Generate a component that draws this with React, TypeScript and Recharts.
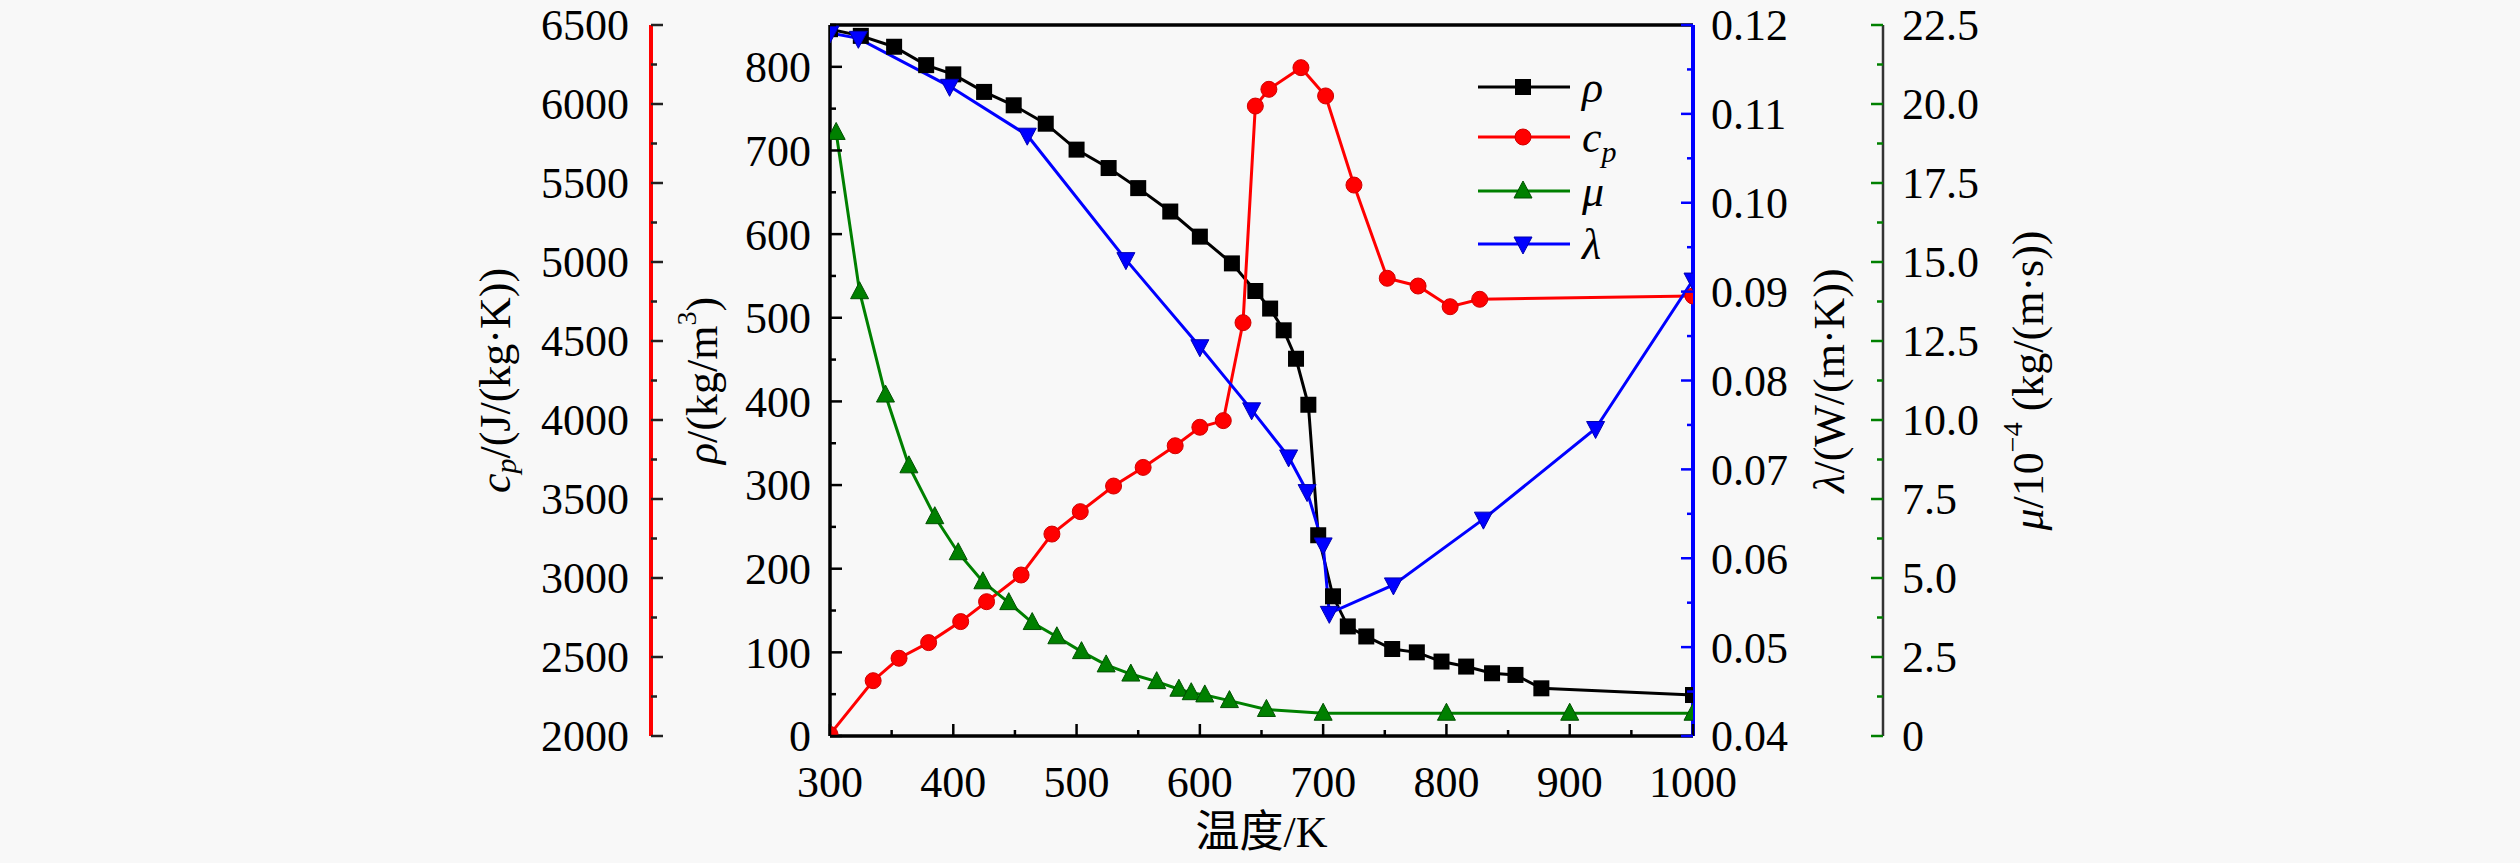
import React from 'react';
import { LineChart, Line, XAxis, YAxis, ReferenceLine } from 'recharts';

// density rho, kg/m3
const rhoTemp = [300, 325, 352, 378, 400, 425, 449, 475, 500, 526, 550, 576, 600, 626, 645, 657, 668, 678, 688, 696, 708, 720, 735, 756, 776, 796, 816, 837, 856, 877, 1000];
const rhoValues = [845, 837, 824, 802, 791, 770, 754, 732, 701, 679, 655, 627, 597, 565, 532, 511, 485, 451, 396, 240, 167, 131, 119, 104, 100, 89, 83, 75, 73, 57, 49];

// specific heat cp, J/(kg K)
const cpTemp = [300, 335, 356, 380, 406, 427, 455, 480, 503, 530, 554, 580, 600, 619, 635, 645, 656, 682, 702, 725, 752, 777, 803, 827, 1000];
const cpValues = [2010, 2350, 2492, 2591, 2724, 2850, 3019, 3278, 3420, 3582, 3700, 3837, 3954, 3996, 4616, 5987, 6093, 6230, 6051, 5487, 4897, 4848, 4717, 4764, 4785];

// viscosity mu, 1e-4 kg/(m s)
const muTemp = [305, 324, 345, 364, 385, 404, 424, 445, 464, 484, 504, 524, 544, 565, 583, 593, 604, 624, 654, 700, 800, 900, 1000];
const muValues = [19.1, 14.06, 10.79, 8.55, 6.94, 5.8, 4.88, 4.22, 3.59, 3.14, 2.67, 2.25, 1.96, 1.72, 1.48, 1.37, 1.3, 1.12, 0.84, 0.72, 0.72, 0.72, 0.72];

// conductivity lambda, W/(m K)
const lambdaTemp = [300, 323, 397, 460, 540, 600, 642, 672, 687, 700, 705, 757, 830, 921, 1000];
const lambdaValues = [0.1191, 0.1185, 0.1131, 0.1076, 0.0936, 0.0838, 0.0767, 0.0714, 0.0675, 0.0615, 0.0538, 0.057, 0.0644, 0.0746, 0.0913];

const xTicks = [300, 350, 400, 450, 500, 550, 600, 650, 700, 750, 800, 850, 900, 950, 1000];
const rhoTicks = [0, 50, 100, 150, 200, 250, 300, 350, 400, 450, 500, 550, 600, 650, 700, 750, 800, 850];
const cpTicks = [2000, 2250, 2500, 2750, 3000, 3250, 3500, 3750, 4000, 4250, 4500, 4750, 5000, 5250, 5500, 5750, 6000, 6250, 6500];
const lambdaTicks = [0.04, 0.045, 0.05, 0.055, 0.06, 0.065, 0.07, 0.075, 0.08, 0.085, 0.09, 0.095, 0.1, 0.105, 0.11, 0.115, 0.12];
const muTicks = [0, 1.25, 2.5, 3.75, 5, 6.25, 7.5, 8.75, 10, 11.25, 12.5, 13.75, 15, 16.25, 17.5, 18.75, 20, 21.25, 22.5];

const toPoints = (ts: number[], vs: number[]) => ts.map((t, i) => ({ t, v: vs[i] }));

const FONT = '"Liberation Serif", "Times New Roman", serif';
const FS = 44;
const RED = '#ff0000';
const GREEN = '#008000';
const BLUE = '#0000ff';

// axis ids: 1 = next to the plot, 2 = outer one
const RHO = 'L1';
const CP = 'L2';
const LAMBDA = 'R1';
const MU = 'R2';

const isMajor = (v: number, step: number) => Math.abs(v / step - Math.round(v / step)) < 1e-6;

type TickOpts = {
  side: 'left' | 'right' | 'bottom';
  step: number;
  fmt: (v: number) => string;
  color: string;
  gap: number;
};

// ticks point towards the plot; minor ticks are shorter and unlabeled
const makeTick = (o: TickOpts) => (props: any) => {
  const { x, y, payload } = props;
  const v = payload.value;
  const big = isMajor(v, o.step);
  const len = big ? 12 : 6;
  const txt = { fontFamily: FONT, fontSize: FS, fill: '#000' };
  if (o.side === 'bottom') {
    return (
      <g>
        <line x1={x} y1={y} x2={x} y2={y - len} stroke={o.color} strokeWidth={2.5} />
        {big && (
          <text x={x} y={y + o.gap} textAnchor="middle" dy="0.35em" {...txt}>
            {o.fmt(v)}
          </text>
        )}
      </g>
    );
  }
  const dir = o.side === 'left' ? 1 : -1;
  return (
    <g>
      <line x1={x} y1={y} x2={x + dir * len} y2={y} stroke={o.color} strokeWidth={2.5} />
      {big && (
        <text x={x - dir * o.gap} y={y} textAnchor={o.side === 'left' ? 'end' : 'start'} dy="0.35em" {...txt}>
          {o.fmt(v)}
        </text>
      )}
    </g>
  );
};

const yTitle = (dx: number, parts: React.ReactNode) => (props: any) => {
  const vb = props.viewBox;
  const cx = vb.x + dx;
  const cy = vb.y + vb.height / 2;
  return (
    <text
      x={cx}
      y={cy}
      transform={`rotate(-90 ${cx} ${cy})`}
      textAnchor="middle"
      dominantBaseline="central"
      fontFamily={FONT}
      fontSize={FS}
      fill="#000"
    >
      {parts}
    </text>
  );
};

const xTitle = (props: any) => {
  const vb = props.viewBox;
  return (
    <text
      x={vb.x + vb.width / 2}
      y={vb.y + 111}
      textAnchor="middle"
      fontFamily={'"Liberation Serif", "Noto Sans CJK SC", serif'}
      fontSize={FS}
      fill="#000"
    >
      温度/K
    </text>
  );
};

const square = (cx: number, cy: number, key?: any) => (
  <rect key={key} x={cx - 8} y={cy - 8} width={16} height={16} fill="#000" />
);
const circle = (cx: number, cy: number, key?: any) => (
  <circle key={key} cx={cx} cy={cy} r={8} fill={RED} stroke="#d00000" strokeWidth={1} />
);
const triUp = (cx: number, cy: number, key?: any) => (
  <polygon key={key} points={`${cx},${cy - 10} ${cx - 9},${cy + 7} ${cx + 9},${cy + 7}`} fill={GREEN} stroke="#005000" strokeWidth={1} />
);
const triDown = (cx: number, cy: number, key?: any) => (
  <polygon key={key} points={`${cx},${cy + 10} ${cx - 9},${cy - 7} ${cx + 9},${cy - 7}`} fill={BLUE} stroke="#0000b0" strokeWidth={1} />
);

const dotOf = (shape: typeof square) => (p: any) => shape(p.cx, p.cy, p.index);

const legendItems = [
  { name: 'rho', color: '#000', shape: square, y: 87 },
  { name: 'cp', color: RED, shape: circle, y: 137 },
  { name: 'mu', color: GREEN, shape: triUp, y: 191 },
  { name: 'lambda', color: BLUE, shape: triDown, y: 244 },
];

const legendLabel = (name: string) => {
  if (name === 'rho') return <tspan fontStyle="italic">ρ</tspan>;
  if (name === 'mu') return <tspan fontStyle="italic">μ</tspan>;
  if (name === 'lambda') return <tspan fontStyle="italic">λ</tspan>;
  return (
    <>
      <tspan fontStyle="italic">c</tspan>
      <tspan fontStyle="italic" fontSize={30} dy={10}>p</tspan>
    </>
  );
};

export default function App() {
  return (
    <div style={{ position: 'absolute', left: 0, top: 0, width: 2520, height: 863, background: '#f8f8f8' }}>
      <LineChart width={2520} height={863} margin={{ top: 25, right: 447, bottom: 27, left: 472 }}>
        <XAxis
          dataKey="t"
          type="number"
          domain={[300, 1000]}
          allowDataOverflow
          ticks={xTicks}
          interval={0}
          height={100}
          tickSize={0}
          tickMargin={0}
          tickLine={false}
          axisLine={{ stroke: '#000', strokeWidth: 3.5 }}
          tick={makeTick({ side: 'bottom', step: 100, fmt: (v) => String(v), color: '#000', gap: 46 })}
          label={{ content: xTitle }}
        />
        <YAxis
          yAxisId={RHO}
          orientation="left"
          type="number"
          domain={[0, 850]}
          allowDataOverflow
          ticks={rhoTicks}
          interval={0}
          width={179}
          tickSize={0}
          tickMargin={0}
          tickLine={false}
          axisLine={{ stroke: '#000', strokeWidth: 3.5 }}
          tick={makeTick({ side: 'left', step: 100, fmt: (v) => String(v), color: '#000', gap: 19 })}
          label={{
            content: yTitle(51, (
              <>
                <tspan fontStyle="italic">ρ</tspan>
                <tspan>/(kg/m</tspan>
                <tspan fontSize={28} dy={-16}>3</tspan>
                <tspan dy={16}>)</tspan>
              </>
            )),
          }}
        />
        <YAxis
          yAxisId={CP}
          orientation="left"
          type="number"
          domain={[2000, 6500]}
          allowDataOverflow
          ticks={cpTicks}
          interval={0}
          width={179}
          tickSize={0}
          tickMargin={0}
          tickLine={false}
          axisLine={{ stroke: RED, strokeWidth: 4 }}
          tick={makeTick({ side: 'left', step: 500, fmt: (v) => String(v), color: '#222', gap: 22 })}
          label={{
            content: yTitle(23, (
              <>
                <tspan fontStyle="italic">c</tspan>
                <tspan fontStyle="italic" fontSize={30} dy={10}>p</tspan>
                <tspan dy={-10}>/(J/(kg·K))</tspan>
              </>
            )),
          }}
        />
        <YAxis
          yAxisId={LAMBDA}
          orientation="right"
          type="number"
          domain={[0.04, 0.12]}
          allowDataOverflow
          ticks={lambdaTicks}
          interval={0}
          width={190}
          tickSize={0}
          tickMargin={0}
          tickLine={false}
          axisLine={{ stroke: BLUE, strokeWidth: 4 }}
          tick={makeTick({ side: 'right', step: 0.01, fmt: (v) => v.toFixed(2), color: BLUE, gap: 18 })}
          label={{
            content: yTitle(136, (
              <>
                <tspan fontStyle="italic">λ</tspan>
                <tspan>/(W/(m·K))</tspan>
              </>
            )),
          }}
        />
        <YAxis
          yAxisId={MU}
          orientation="right"
          type="number"
          domain={[0, 22.5]}
          allowDataOverflow
          ticks={muTicks}
          interval={0}
          width={190}
          tickSize={0}
          tickMargin={0}
          tickLine={false}
          axisLine={{ stroke: '#333', strokeWidth: 2.5 }}
          tick={makeTick({ side: 'right', step: 2.5, fmt: (v) => (v === 0 ? '0' : v.toFixed(1)), color: GREEN, gap: 19 })}
          label={{
            content: yTitle(145, (
              <>
                <tspan fontStyle="italic">μ</tspan>
                <tspan>/10</tspan>
                <tspan fontSize={28} dy={-16}>−4</tspan>
                <tspan dy={16}> (kg/(m·s))</tspan>
              </>
            )),
          }}
        />
        <ReferenceLine y={850} yAxisId={RHO} stroke="#000" strokeWidth={3.5} />
        <Line
          data={toPoints(rhoTemp, rhoValues)}
          dataKey="v"
          yAxisId={RHO}
          type="linear"
          stroke="#000"
          strokeWidth={3}
          dot={dotOf(square)}
          activeDot={false}
          isAnimationActive={false}
        />
        <Line
          data={toPoints(cpTemp, cpValues)}
          dataKey="v"
          yAxisId={CP}
          type="linear"
          stroke={RED}
          strokeWidth={3}
          dot={dotOf(circle)}
          activeDot={false}
          isAnimationActive={false}
        />
        <Line
          data={toPoints(muTemp, muValues)}
          dataKey="v"
          yAxisId={MU}
          type="linear"
          stroke={GREEN}
          strokeWidth={3}
          dot={dotOf(triUp)}
          activeDot={false}
          isAnimationActive={false}
        />
        <Line
          data={toPoints(lambdaTemp, lambdaValues)}
          dataKey="v"
          yAxisId={LAMBDA}
          type="linear"
          stroke={BLUE}
          strokeWidth={3}
          dot={dotOf(triDown)}
          activeDot={false}
          isAnimationActive={false}
        />
      </LineChart>
      <svg width={2520} height={863} style={{ position: 'absolute', left: 0, top: 0, pointerEvents: 'none' }}>
        {legendItems.map((it) => (
          <g key={it.name}>
            <line x1={1478} y1={it.y} x2={1570} y2={it.y} stroke={it.color} strokeWidth={3} />
            {it.shape(1523, it.y)}
            <text x={1582} y={it.y} dy="0.35em" fontFamily={FONT} fontSize={FS} fill="#000">
              {legendLabel(it.name)}
            </text>
          </g>
        ))}
      </svg>
    </div>
  );
}
